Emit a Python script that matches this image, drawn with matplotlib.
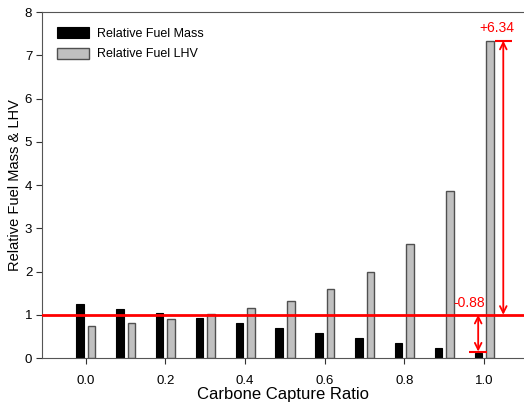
import numpy as np
import matplotlib
matplotlib.use("Agg")
import matplotlib.pyplot as plt

plt.rcParams['font.family'] = ['Liberation Sans', 'DejaVu Sans']

# data
capture_ratio = [0.0, 0.1, 0.2, 0.3, 0.4, 0.5, 0.6, 0.7, 0.8, 0.9, 1.0]
fuel_mass = [1.24, 1.13, 1.03, 0.92, 0.80, 0.69, 0.57, 0.46, 0.34, 0.24, 0.12]
fuel_lhv = [0.73, 0.81, 0.90, 1.01, 1.15, 1.33, 1.59, 1.99, 2.63, 3.87, 7.34]
x_ticks = [0.0, 0.2, 0.4, 0.6, 0.8, 1.0]
baseline = 1.0

x = np.array(capture_ratio)
w = 0.019

fig = plt.figure(figsize=(5.24, 4.05), dpi=100)
ax = fig.add_axes([0.080, 0.116, 0.920, 0.854])

ax.bar(x - 0.0145, fuel_mass, width=w, color='black', edgecolor='black',
       linewidth=0.8, label='Relative Fuel Mass', zorder=2)
ax.bar(x + 0.0145, fuel_lhv, width=w, color='#c0c0c0', edgecolor='#505050',
       linewidth=1.0, label='Relative Fuel LHV', zorder=2)

# reference line at 1
ax.axhline(baseline, color='red', linewidth=2, zorder=3)

red = '#ff0000'
# increase of LHV at full capture
xa = 1.048
ax.annotate('', xy=(xa, fuel_lhv[-1]), xytext=(xa, baseline),
            arrowprops=dict(arrowstyle='<->', color=red, lw=1.3,
                            shrinkA=0, shrinkB=0, mutation_scale=12), zorder=4)
ax.hlines(fuel_lhv[-1], xa - 0.022, xa + 0.022, color=red, lw=1.5, zorder=4)
ax.text(1.033, fuel_lhv[-1] + 0.12, f'+{fuel_lhv[-1] - baseline:.2f}',
        color=red, fontsize=10, ha='center', va='bottom')

# decrease of mass at full capture
xb = 0.985
ax.annotate('', xy=(xb, baseline), xytext=(xb, fuel_mass[-1] + 0.03),
            arrowprops=dict(arrowstyle='<->', color=red, lw=1.3,
                            shrinkA=0, shrinkB=0, mutation_scale=12), zorder=4)
ax.hlines(fuel_mass[-1] + 0.03, xb - 0.022, xb + 0.022, color=red, lw=1.5, zorder=4)
ax.text(0.962, baseline + 0.1, f'-{baseline - fuel_mass[-1]:.2f}',
        color=red, fontsize=10, ha='center', va='bottom')

ax.set_xlim(-0.11, 1.10)
ax.set_ylim(0, 8)
ax.set_xticks(x_ticks)
ax.set_xticklabels([f'{t:.1f}' for t in x_ticks])
ax.set_yticks(range(0, 9))
ax.tick_params(labelsize=9.5, length=4, color='#333333', pad=8)
ax.tick_params(axis='y', pad=3)
for s in ['left', 'bottom', 'top']:
    ax.spines[s].set_color('#555555')
ax.spines['right'].set_visible(False)

ax.set_xlabel('Carbone Capture Ratio', fontsize=12, labelpad=0)
ax.set_ylabel('Relative Fuel Mass & LHV', fontsize=10.5, labelpad=2)

ax.legend(loc='upper left', frameon=False, fontsize=9, handlelength=2.6,
          handleheight=1.0, handletextpad=0.6, borderaxespad=0.8,
          labelspacing=0.6)

fig.savefig('out.png', dpi=100)
